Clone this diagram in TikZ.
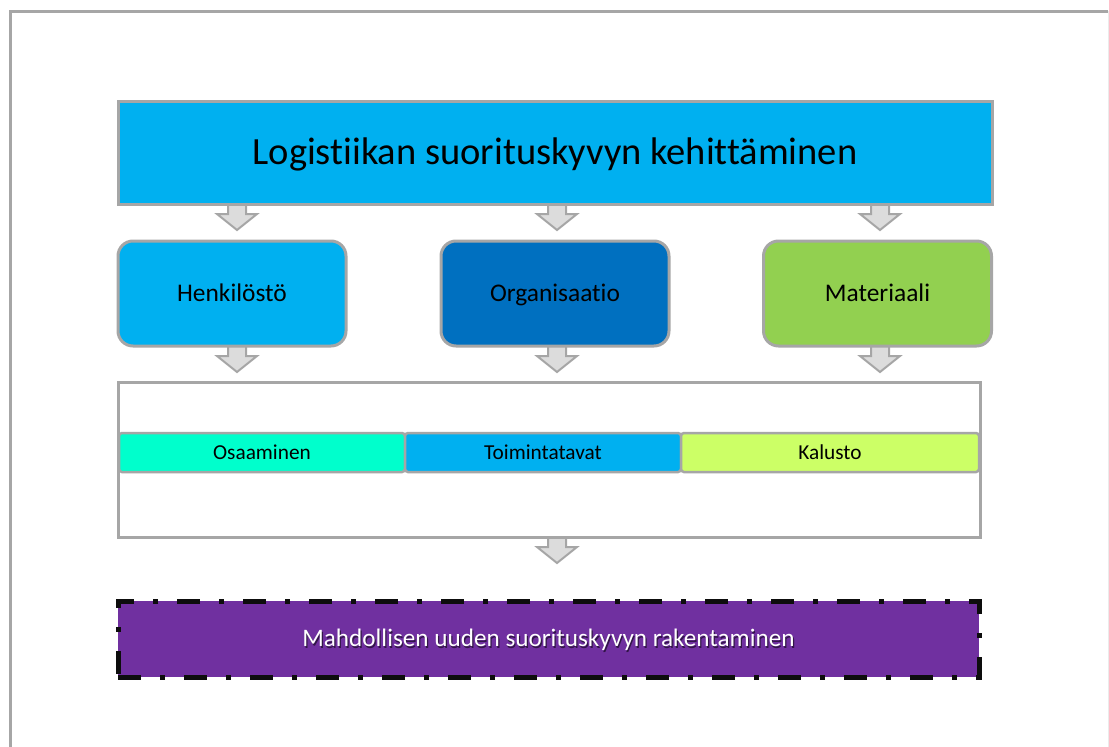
\documentclass[tikz,border=0pt]{standalone}
\usepackage{fontspec}
\setmainfont{Carlito}[Ligatures={NoCommon}]
\usetikzlibrary{calc}
\definecolor{edgegray}{HTML}{A6A6A6}
\definecolor{arrowfill}{HTML}{DCDCDC}
\definecolor{skyblue}{HTML}{00B0F0}
\definecolor{deepblue}{HTML}{0070C0}
\definecolor{leafgreen}{HTML}{92D050}
\definecolor{aqua}{HTML}{00FFCC}
\definecolor{lime}{HTML}{CCFF66}
\definecolor{plum}{HTML}{7030A0}
\definecolor{ink}{HTML}{0D0D0D}

\tikzset{
  capcentred/.style={text height=#1, text depth=0pt},
  titlebox/.style={draw=edgegray, line width=3pt, fill=skyblue,
    minimum width=874pt, minimum height=103pt, inner sep=0pt,
    font=\fontsize{38.5}{46}\selectfont, capcentred=24.3pt},
  areabox/.style={draw=edgegray, line width=3pt, rounded corners=15pt,
    minimum width=228pt, minimum height=105pt, inner sep=0pt,
    font=\fontsize{25.4}{30}\selectfont, capcentred=16pt},
  holder/.style={draw=edgegray, line width=3pt, fill=white,
    minimum width=862pt, minimum height=155pt, inner sep=0pt},
  cell/.style={draw=edgegray, line width=2.5pt, rounded corners=3pt,
    minimum height=39pt, inner sep=0pt, font=\fontsize{21.3}{25}\selectfont,
    capcentred=13.4pt},
  goalbox/.style={draw=ink, line width=5pt, fill=plum,
    dash pattern=on 23pt off 19pt on 5pt off 19pt,
    minimum width=861pt, minimum height=76pt, inner sep=0pt},
  goaltext/.style={font=\fontsize{25.2}{30}\selectfont, inner sep=0pt,
    capcentred=15.9pt},
  blockarrow/.style={draw=edgegray, line width=2pt, fill=arrowfill, line join=miter},
}

% a gray down-pointing block arrow hanging from the given point
\newcommand\blockdown[1]{%
  \draw[blockarrow] ($(#1)+(-9,0)$) -- ++(0,10) -- ++(-11,0)
    -- ($(#1)+(0,26)$) -- ($(#1)+(20,10)$) -- ++(-11,0) -- ++(0,-10);}

\begin{document}
\begin{tikzpicture}[x=1pt,y=-1pt]
\useasboundingbox (0,0) rectangle (1109,747);

% page frame
\draw[edgegray, line width=3pt] (10,760) -- (10,11) -- (1108,11);
\draw[black!8, line width=1pt] (1108,11) -- (1108,760);

% arrow anchor points
\coordinate (a1) at (237,204);
\coordinate (a2) at (557,204);
\coordinate (a3) at (880,204);
\coordinate (b1) at (237,346);
\coordinate (b2) at (557,346);
\coordinate (b3) at (880,346);
\coordinate (c1) at (557,537);

\blockdown{a1}\blockdown{a2}\blockdown{a3}
\blockdown{b1}\blockdown{b2}\blockdown{b3}
\blockdown{c1}

% title
\node[titlebox] (title) at (555,152.5) {Logistiikan suorituskyvyn kehittäminen};

% three focus areas
\node[areabox, fill=skyblue]   (hen) at (232,293.5)   {Henkilöstö};
\node[areabox, fill=deepblue]  (org) at (555,293.5)   {Organisaatio};
\node[areabox, fill=leafgreen] (mat) at (877.5,293.5) {Materiaali};

% capability band
\node[holder] (band) at (549,459.5) {};
\node[cell, fill=aqua, minimum width=286pt]    (osa) at (262,452.5) {Osaaminen};
\node[cell, fill=skyblue, minimum width=276pt] (toi) at (543,452.5) {Toimintatavat};
\node[cell, fill=lime, minimum width=298pt]    (kal) at (830,452.5) {Kalusto};

% outcome
\node[goalbox] (goal) at (548.5,639) {};
\node[goaltext, text=black, opacity=0.55] (goalshadow) at ($(goal)+(1.2,1.6)$)
  {Mahdollisen uuden suorituskyvyn rakentaminen};
\node[goaltext, text=white] (goallabel) at (goal)
  {Mahdollisen uuden suorituskyvyn rakentaminen};
\end{tikzpicture}
\end{document}
